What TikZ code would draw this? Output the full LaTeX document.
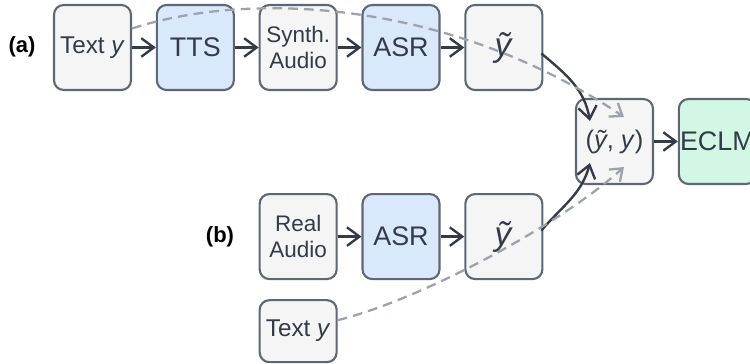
\documentclass[tikz,border=0pt]{standalone}
\usepackage{fontspec}
\setmainfont{Liberation Sans}
\usetikzlibrary{positioning, arrows.meta}

\definecolor{boxgray}{HTML}{F5F5F5}
\definecolor{modelblue}{HTML}{DAE8FC}
\definecolor{modelgreen}{HTML}{D2F7E4}
\definecolor{edgegray}{HTML}{5F6675}
\definecolor{arrowdark}{HTML}{333A48}
\definecolor{refgray}{HTML}{9DA2AD}

\begin{document}
\begin{tikzpicture}[
x=0.02cm, y=-0.02cm,
node distance=0.475cm,
stagebox/.style={draw=edgegray, fill=boxgray, rounded corners=5.5pt, line width=1.2pt, minimum width=1.54cm, minimum height=1.7cm, inner sep=0pt, align=center, text=arrowdark, font=\fontsize{12.8}{14.7}\selectfont},
modelbox/.style={stagebox, fill=modelblue, font=\fontsize{15.3}{18}\selectfont},
hypbox/.style={stagebox, font=\fontsize{19}{22}\selectfont},
tagnode/.style={text=black, font=\fontsize{12.5}{15}\selectfont\bfseries},
flow/.style={-{Straight Barb[length=2.5mm, width=3.7mm]}, draw=arrowdark, line width=1.35pt},
refflow/.style={-{Straight Barb[length=2.2mm, width=3.3mm]}, draw=refgray, line width=1.3pt, dash pattern=on 5.5pt off 3.5pt},
]
\useasboundingbox (0,0) rectangle (750,364);
\clip (0,0) rectangle (750,364);

% Defining the nodes of path (a)
\node[stagebox, font=\fontsize{13.8}{16}\selectfont] (texta) at (92.5,47.5) {Text \textit{y}};
\node[modelbox] (tts) [right=of texta] {TTS};
\node[stagebox] (synth) [right=of tts] {Synth.\\Audio};
\node[modelbox] (asra) [right=of synth] {ASR};
\node[hypbox] (hypa) [right=of asra] {\textit{ỹ}};

% Defining the nodes of path (b)
\node[stagebox] (audio) [below=2.04cm of synth] {Real\\Audio};
\node[modelbox] (asrb) [right=of audio] {ASR};
\node[hypbox] (hypb) [right=of asrb] {\textit{ỹ}};
\node[stagebox, minimum height=1.24cm, font=\fontsize{13.8}{16}\selectfont] (textb) [below=0.38cm of audio] {Text \textit{y}};

% Pair and corrector
\node[stagebox, font=\fontsize{14.5}{17}\selectfont] (pair) at (614.5,141.5) {(\textit{ỹ}, \textit{y})};
\node[stagebox, fill=modelgreen, font=\fontsize{15.3}{18}\selectfont] (eclm) [right=of pair] {ECLM};

% Labels
\node[tagnode] (taga) at (22,47) {(a)};
\node[tagnode] (tagb) at (220,237) {(b)};

% Arrow ends inside the pair box
\coordinate (hyp in a) at ([shift={(15,23)}]pair.north west);
\coordinate (ref in a) at ([shift={(49,19)}]pair.north west);
\coordinate (hyp in b) at ([shift={(15,-22)}]pair.south west);
\coordinate (ref in b) at ([shift={(49,-18)}]pair.south west);

% Chain (a)
\draw[flow] (texta) -- (tts);
\draw[flow] (tts) -- (synth);
\draw[flow] (synth) -- (asra);
\draw[flow] (asra) -- (hypa);

% Chain (b)
\draw[flow] (audio) -- (asrb);
\draw[flow] (asrb) -- (hypb);

% Into the pair
\draw[flow] ([shift={(-2,6)}]hypa.east) to[out=-40, in=100] (hyp in a);
\draw[flow] ([shift={(-2,-6)}]hypb.east) to[out=50, in=-105] (hyp in b);
\draw[refflow] ([shift={(0,-19)}]texta.east) .. controls (250,-10) and (450,0) .. (ref in a);
\draw[refflow] ([shift={(0,-11)}]textb.east) .. controls (420,300) and (560,225) .. (ref in b);

\draw[flow] (pair) -- (eclm);

\end{tikzpicture}
\end{document}
